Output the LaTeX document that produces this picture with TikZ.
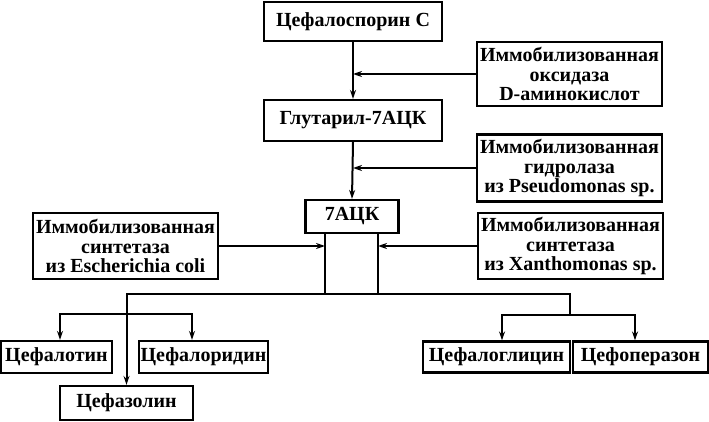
\documentclass[tikz,border=0pt]{standalone}
\usepackage{fontspec}
\setmainfont{Liberation Serif}
\usetikzlibrary{arrows.meta}
\begin{document}
\begin{tikzpicture}[x=1pt,y=-1pt,
  box/.style={draw, line width=2.2pt, inner sep=0pt, align=center,
    font=\fontsize{20}{19.5}\selectfont\bfseries},
  conn/.style={line width=2pt},
  arr/.style={conn, -{Stealth[length=9pt,width=6pt]}}]
\useasboundingbox (0,0) rectangle (709,422);
% main chain
\node[box, minimum width=178pt, minimum height=39pt] (cephC) at (353,21.5) {Цефалоспорин C};
\node[box, minimum width=178pt, minimum height=41pt] (glut) at (353,120.5) {Глутарил-7АЦК};
\node[box, minimum width=93pt, minimum height=33pt] (a7) at (352,216.5) {7АЦК};
% enzymes
\node[box, minimum width=185pt, minimum height=64pt] (enz1) at (569.5,74) {Иммобилизованная\\оксидаза\\D-аминокислот};
\node[box, minimum width=185pt, minimum height=67pt] (enz2) at (569.5,168) {Иммобилизованная\\гидролаза\\из Pseudomonas sp.};
\node[box, minimum width=185pt, minimum height=66pt] (enz3) at (125.5,246) {Иммобилизованная\\синтетаза\\из Escherichia coli};
\node[box, minimum width=185pt, minimum height=66pt] (enz4) at (570.5,246) {Иммобилизованная\\синтетаза\\из Xanthomonas sp.};
% products
\node[box, minimum width=111pt, minimum height=32pt] (cefalotin) at (56.5,357) {Цефалотин};
\node[box, minimum width=129pt, minimum height=32pt] (cefaloridin) at (203.5,357) {Цефалоридин};
\node[box, minimum width=133pt, minimum height=34pt] (cefazolin) at (126.5,403) {Цефазолин};
\node[box, minimum width=147pt, minimum height=31pt] (cefaloglicin) at (496.5,357) {Цефалоглицин};
\node[box, minimum width=135pt, minimum height=31pt] (cefoperazon) at (640.5,357) {Цефоперазон};
% junction coordinates
\coordinate (j1) at (cephC.south |- enz1.west);
\coordinate (j2) at (glut.south |- enz2.west);
\coordinate (sL) at (325,294);
\coordinate (sR) at (378,294);
\coordinate (hL) at (126.5,294);
\coordinate (hR) at (570,294);
\coordinate (bL1) at (60,314);
\coordinate (bL2) at (192,314);
\coordinate (vR) at (570,315);
\coordinate (bR1) at (502,315);
\coordinate (bR2) at (635,315);
% connectors
\draw[arr] (cephC.south) -- (glut.north);
\draw[arr] (enz1.west) -- (j1);
\draw[arr] (glut.south) -- (a7.north);
\draw[arr] (enz2.west) -- (j2);
\draw[conn] (a7.south -| sL) -- (sL);
\draw[conn] (a7.south -| sR) -- (sR);
\draw[arr] (enz3.east) -- (enz3.east -| sL);
\draw[arr] (enz4.west) -- (enz4.west -| sR);
\draw[conn, line cap=rect] (hL) -- (hR);
\draw[arr] (hL) -- (cefazolin.north);
\draw[conn, line cap=rect] (bL1) -- (bL2);
\draw[arr] (bL1) -- (bL1 |- cefalotin.north);
\draw[arr] (bL2) -- (bL2 |- cefaloridin.north);
\draw[conn] (hR) -- (vR);
\draw[conn, line cap=rect] (bR1) -- (bR2);
\draw[arr] (bR1) -- (bR1 |- cefaloglicin.north);
\draw[arr] (bR2) -- (bR2 |- cefoperazon.north);
\end{tikzpicture}
\end{document}
